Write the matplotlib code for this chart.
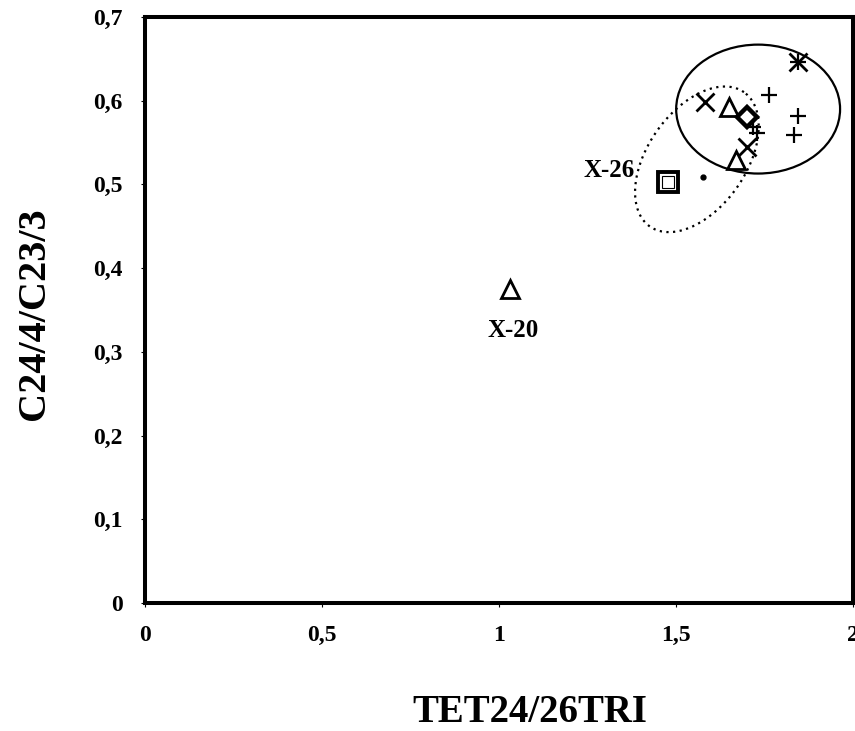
import numpy as np
import matplotlib
matplotlib.use("Agg")
import matplotlib.pyplot as plt
from matplotlib.patches import Ellipse

# ---- data ----
tri_x = [1.031, 1.650, 1.669]
tri_y = [0.375, 0.593, 0.529]
cross_x = [1.582, 1.845, 1.701]
cross_y = [0.599, 0.646, 0.545]
plus_x = [1.763, 1.718, 1.729, 1.845, 1.833, 1.845]
plus_y = [0.607, 0.569, 0.562, 0.582, 0.559, 0.646]
diam_x = [1.701]
diam_y = [0.581]
sq_x = [1.477]
sq_y = [0.503]
dot_x = [1.576]
dot_y = [0.509]

x_ticks = [0, 0.5, 1, 1.5, 2]
x_ticklabels = ["0", "0,5", "1", "1,5", "2"]
y_ticks = [0, 0.1, 0.2, 0.3, 0.4, 0.5, 0.6, 0.7]
y_ticklabels = ["0", "0,1", "0,2", "0,3", "0,4", "0,5", "0,6", "0,7"]

labels = [("X-20", 1.04, 0.325), ("X-26", 1.31, 0.517)]

plt.rcParams['font.family'] = ['Liberation Serif', 'DejaVu Serif']
plt.rcParams['font.weight'] = 'bold'

W, H = 855, 731
fig = plt.figure(figsize=(W / 100, H / 100), dpi=100)
ax = fig.add_axes([145 / W, (H - 603) / H, (853 - 145) / W, (603 - 17) / H])
ax.set_xlim(0, 2)
ax.set_ylim(0, 0.7)

for s in ax.spines.values():
    s.set_linewidth(2.9)

ax.set_xticks(x_ticks)
ax.set_xticklabels(x_ticklabels, fontsize=17, fontweight='bold')
ax.set_yticks(y_ticks)
ax.set_yticklabels(y_ticklabels, fontsize=17, fontweight='bold')
ax.tick_params(direction='out', length=3, width=0.8, pad=13)

# markers
ax.plot(tri_x, tri_y, ls='none', marker='^', ms=13, mfc='none', mec='black', mew=2)
ax.plot(cross_x, cross_y, ls='none', marker='x', ms=13, mec='black', mew=2)
ax.plot(plus_x, plus_y, ls='none', marker='+', ms=11, mec='black', mew=1.6)
ax.plot(diam_x, diam_y, ls='none', marker='D', ms=10, mfc='white', mec='black', mew=3.2)
ax.plot(sq_x, sq_y, ls='none', marker='s', ms=14, mfc='white', mec='black', mew=2.8)
ax.plot(sq_x, sq_y, ls='none', marker='s', ms=8, mfc='none', mec='black', mew=0.8)
ax.plot(dot_x, dot_y, ls='none', marker='o', ms=3.5, color='black')

# solid ellipse
ax.add_patch(Ellipse((1.732, 0.590), 0.463, 0.154, angle=0, fill=False,
                     ec='black', lw=1.6))

# dotted tilted ellipse (defined in pixel units, converted to data units)
sx = (853 - 145) / 2.0
sy = (603 - 17) / 0.7
cx, cy = 1.559, 0.530
a_px, b_px, th = 82.0, 49.0, np.deg2rad(55)
t = np.linspace(0, 2 * np.pi, 400)
dxp = a_px * np.cos(t) * np.cos(th) - b_px * np.sin(t) * np.sin(th)
dyp = a_px * np.cos(t) * np.sin(th) + b_px * np.sin(t) * np.cos(th)
ax.plot(cx + dxp / sx, cy + dyp / sy, color='black', lw=1.6, ls=(0, (1, 2)))

for txt, lx, ly in labels:
    ax.text(lx, ly, txt, fontsize=18, fontweight='bold', ha='center', va='center')

fig.text(530 / W, 1 - 712 / H, "TET24/26TRI", fontsize=28, fontweight='bold',
         ha='center', va='center')
fig.text(35 / W, 1 - 314 / H, "C24/4/C23/3", fontsize=29, fontweight='bold',
         ha='center', va='center', rotation=90)

fig.savefig("out.png", dpi=100)
